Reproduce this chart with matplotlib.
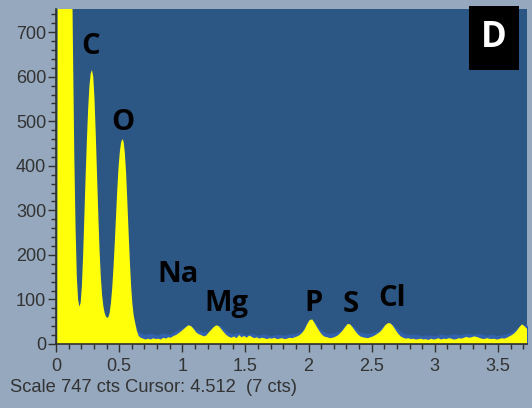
import matplotlib
matplotlib.use("Agg")
import matplotlib.pyplot as plt
from matplotlib.ticker import MultipleLocator
from matplotlib.patches import Rectangle

# ---- data ----
energy_kev = [0.00, 0.01, 0.015, 0.03, 0.06, 0.09, 0.11, 0.125, 0.135, 0.145, 0.155, 0.165,
              0.175, 0.185, 0.195, 0.205, 0.215, 0.225, 0.235, 0.245, 0.255, 0.265, 0.275,
              0.285, 0.295, 0.305, 0.315, 0.325, 0.335, 0.345, 0.355, 0.365, 0.375, 0.385,
              0.395, 0.405, 0.415, 0.425, 0.435, 0.445, 0.455, 0.465, 0.475, 0.485, 0.495,
              0.505, 0.515, 0.525, 0.535, 0.545, 0.555, 0.565, 0.575, 0.585, 0.595, 0.605,
              0.615, 0.625, 0.64, 0.655, 0.67, 0.69, 0.71,
              0.73, 0.75, 0.77, 0.79, 0.81, 0.83, 0.85, 0.87, 0.89, 0.91, 0.93, 0.95, 0.97,
              0.99, 1.01, 1.03, 1.05, 1.07, 1.09, 1.11, 1.13, 1.15, 1.17, 1.19, 1.21, 1.23,
              1.25, 1.27, 1.29, 1.31, 1.33, 1.35, 1.37, 1.39, 1.41, 1.43, 1.45, 1.47, 1.49,
              1.51, 1.53, 1.55, 1.57, 1.59, 1.61, 1.63, 1.65, 1.67, 1.69, 1.71, 1.73, 1.75,
              1.77, 1.79, 1.81, 1.83, 1.85, 1.87, 1.89, 1.91, 1.93, 1.95, 1.97, 1.99, 2.01,
              2.03, 2.05, 2.07, 2.09, 2.11, 2.13, 2.15, 2.17, 2.19, 2.21, 2.23, 2.25, 2.27,
              2.29, 2.31, 2.33, 2.35, 2.37, 2.39, 2.41, 2.43, 2.45, 2.47, 2.49, 2.51, 2.53,
              2.55, 2.57, 2.59, 2.61, 2.63, 2.65, 2.67, 2.69, 2.71, 2.73, 2.75, 2.77, 2.79,
              2.81, 2.83, 2.85, 2.87, 2.89, 2.91, 2.93, 2.95, 2.97, 2.99, 3.01, 3.03, 3.05,
              3.07, 3.09, 3.11, 3.13, 3.15, 3.17, 3.19, 3.21, 3.23, 3.25, 3.27, 3.29, 3.31,
              3.33, 3.35, 3.37, 3.39, 3.41, 3.43, 3.45, 3.47, 3.49, 3.51, 3.53, 3.55, 3.57,
              3.59, 3.61, 3.63, 3.65, 3.67, 3.69, 3.71, 3.73, 3.75]
counts = [0, 0, 1200, 2400, 3000, 2400, 1500, 900, 650, 420, 260, 150,
          100, 84, 92, 130, 200, 290, 380, 460, 530, 580, 608,
          615, 600, 550, 470, 380, 290, 210, 150, 110, 85, 70,
          62, 59, 60, 70, 92, 125, 170, 225, 285, 345, 395,
          430, 452, 460, 455, 430, 385, 320, 250, 185, 130, 90,
          65, 50, 30, 18, 14, 12, 10,
          12, 10, 13, 11, 12, 10, 14, 12, 15, 14, 18, 20, 24,
          28, 33, 38, 42, 40, 34, 26, 22, 20, 17, 19, 26, 32,
          38, 42, 40, 33, 26, 20, 16, 14, 17, 13, 20, 15, 18,
          14, 19, 16, 13, 15, 12, 14, 13, 11, 13, 12, 14, 11,
          12, 13, 11, 12, 14, 13, 15, 17, 20, 25, 33, 45, 54,
          55, 46, 36, 27, 20, 16, 15, 13, 14, 16, 19, 24, 30,
          38, 45, 44, 37, 29, 22, 17, 15, 14, 13, 15, 17, 20,
          24, 28, 35, 43, 47, 46, 40, 31, 23, 17, 14, 12, 13,
          11, 12, 10, 11, 12, 10, 11, 9, 12, 10, 11, 13, 10,
          12, 11, 13, 12, 10, 11, 13, 12, 14, 16, 14, 15, 17,
          16, 14, 12, 11, 13, 12, 11, 12, 10, 11, 13, 12, 14,
          17, 20, 24, 30, 38, 44, 40, 34, 30]

# upper edge of the noise band (blue) drawn above the yellow spectrum
band_kev = [0.62, 0.65, 0.70, 0.75, 0.80, 0.85, 0.90, 0.95, 1.00, 1.05, 1.10, 1.15, 1.20,
            1.25, 1.30, 1.35, 1.40, 1.45, 1.50, 1.55, 1.60, 1.65, 1.70, 1.75, 1.80, 1.85,
            1.90, 1.95, 2.00, 2.05, 2.10, 2.15, 2.20, 2.25, 2.30, 2.35, 2.40, 2.45, 2.50,
            2.55, 2.60, 2.65, 2.70, 2.75, 2.80, 2.85, 2.90, 2.95, 3.00, 3.05, 3.10, 3.15,
            3.20, 3.25, 3.30, 3.35, 3.40, 3.45, 3.50, 3.55, 3.60, 3.65, 3.70, 3.75]
band_upper = [52, 28, 22, 24, 20, 25, 22, 30, 36, 45, 34, 28, 27,
              40, 42, 28, 23, 26, 21, 24, 20, 23, 19, 22, 20, 23,
              24, 30, 56, 50, 30, 24, 25, 30, 46, 42, 28, 24, 25,
              30, 44, 48, 36, 24, 21, 22, 19, 21, 19, 22, 20, 23,
              21, 24, 22, 24, 20, 22, 19, 22, 26, 36, 45, 40]

element_labels = ["C", "O", "Na", "Mg", "P", "S", "Cl"]
label_x = [0.27, 0.53, 0.97, 1.35, 2.04, 2.33, 2.66]
label_y = [667, 498, 155, 90, 92, 88, 103]

y_ticks = [0, 100, 200, 300, 400, 500, 600, 700]
x_ticks = [0, 0.5, 1, 1.5, 2, 2.5, 3, 3.5]
x_tick_labels = ["0", "0.5", "1", "1.5", "2", "2.5", "3", "3.5"]
footer = "Scale 747 cts Cursor: 4.512  (7 cts)"
panel = "D"

# ---- figure ----
plt.rcParams["font.family"] = ["Liberation Sans", "DejaVu Sans"]
fig = plt.figure(figsize=(5.32, 4.08), dpi=100)
fig.patch.set_facecolor("#95a8bd")
ax = fig.add_axes([56 / 532, (408 - 344) / 408, (527 - 56) / 532, (344 - 9) / 408])
ax.set_facecolor("#2c5684")

ax.fill_between(band_kev, 0, band_upper, color="#3261ad", linewidth=0, zorder=1)
ax.fill_between(energy_kev, 0, counts, color="#ffff0a", linewidth=0, zorder=2)

ax.set_xlim(0, 3.73)
ax.set_ylim(0, 752)

ax.set_yticks(y_ticks)
ax.set_xticks(x_ticks)
ax.set_xticklabels(x_tick_labels)
ax.xaxis.set_minor_locator(MultipleLocator(0.1))
ax.yaxis.set_minor_locator(MultipleLocator(20))
ax.tick_params(axis="both", which="major", length=6, width=1, color="#303030",
               labelsize=13, labelcolor="#333333", direction="out")
ax.tick_params(axis="both", which="minor", length=3.5, width=1, color="#303030",
               direction="out")
ax.tick_params(axis="y", pad=1)
ax.tick_params(axis="x", pad=4)
for s in ["top", "right"]:
    ax.spines[s].set_visible(False)
for s in ["left", "bottom"]:
    ax.spines[s].set_color("#303030")
    ax.spines[s].set_linewidth(1.2)

for t, x, y in zip(element_labels, label_x, label_y):
    ax.text(x, y, t, fontsize=21, fontweight="bold", family="Open Sans",
            ha="center", va="center", color="black", zorder=5)

fig.text(10 / 532, 1 - 387 / 408, footer, fontsize=13.2, color="#333333",
         ha="left", va="center")

fig.patches.append(Rectangle((469 / 532, (408 - 70) / 408), 50 / 532, 64 / 408,
                             transform=fig.transFigure, facecolor="black",
                             edgecolor="none", zorder=10))
fig.text(494 / 532, 1 - 38 / 408, panel, fontsize=25, fontweight="bold",
         family="Open Sans", color="white", ha="center", va="center", zorder=11)

fig.savefig("out.png", dpi=100, facecolor=fig.get_facecolor())
